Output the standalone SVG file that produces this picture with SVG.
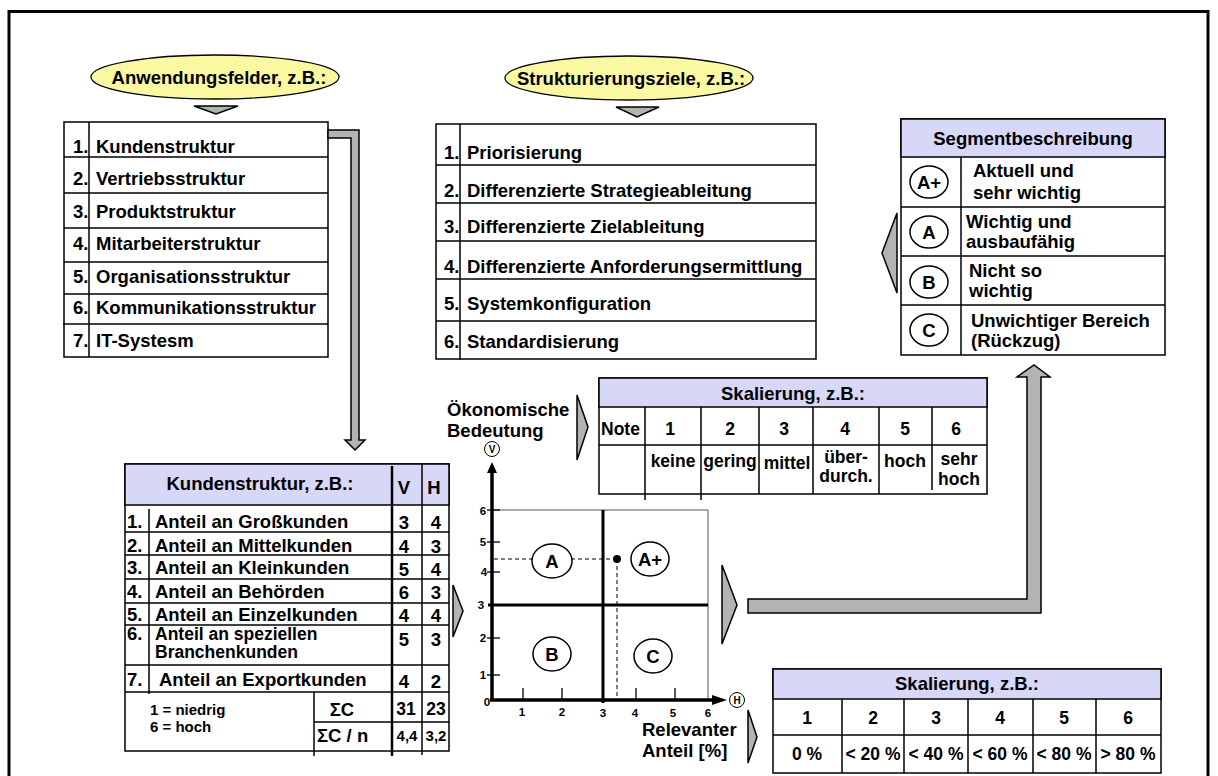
<svg xmlns="http://www.w3.org/2000/svg" width="1218" height="776" viewBox="0 0 1218 776">
<style>
text{font-family:"Liberation Sans",Arial,sans-serif;font-weight:bold;fill:#000}
.L{font-size:18.5px}
.M{font-size:17.5px}
.S{font-size:15px}
.XS{font-size:11.5px}
.T{font-size:10px}
.c{text-anchor:middle}
.box{fill:#fff;stroke:#000;stroke-width:1.5}
.hdr{fill:#D7D7F7;stroke:#000;stroke-width:1.5}
.ln line, line.ln{stroke:#000;stroke-width:1.5}
.gray{fill:#B3B3B3;stroke:#000;stroke-width:1.5}
.ell{fill:#FAF8A0;stroke:#000;stroke-width:1.3}
.circ{fill:#fff;stroke:#000;stroke-width:1.5}
</style>
<rect width="1218" height="776" fill="#fff"/>
<rect x="9" y="11.5" width="1199" height="800" fill="none" stroke="#000" stroke-width="3"/>

<g id="n-anwendungsfelder">
<ellipse cx="215" cy="77" rx="124" ry="22" class="ell"/>
<text x="219" y="84" class="L c">Anwendungsfelder, z.B.:</text>
</g>

<g id="n-liste-anwendungsfelder">
<rect x="64" y="122" width="264" height="235" class="box"/>
<g class="ln">
<line x1="89" y1="122" x2="89" y2="357"/>
<line x1="64" y1="157" x2="328" y2="157"/>
<line x1="64" y1="193" x2="328" y2="193"/>
<line x1="64" y1="228" x2="328" y2="228"/>
<line x1="64" y1="262" x2="328" y2="262"/>
<line x1="64" y1="294" x2="328" y2="294"/>
<line x1="63" y1="324" x2="328" y2="324"/>
</g>
<g class="L">
<text x="73" y="153">1.</text><text x="96" y="153">Kundenstruktur</text>
<text x="73" y="185">2.</text><text x="96" y="185">Vertriebsstruktur</text>
<text x="73" y="218">3.</text><text x="96" y="218">Produktstruktur</text>
<text x="73" y="250">4.</text><text x="96" y="250">Mitarbeiterstruktur</text>
<text x="73" y="283">5.</text><text x="96" y="283">Organisationsstruktur</text>
<text x="73" y="314">6.</text><text x="96" y="314">Kommunikationsstruktur</text>
<text x="73" y="347">7.</text><text x="96" y="347">IT-Systesm</text>
</g>
</g>

<g id="n-strukturierungsziele">
<ellipse cx="629" cy="78" rx="124" ry="22" class="ell"/>
<text x="631" y="85" class="L c">Strukturierungsziele, z.B.:</text>
</g>

<g id="n-liste-ziele">
<rect x="436" y="124" width="380" height="235" class="box"/>
<g class="ln">
<line x1="460" y1="124" x2="460" y2="360"/>
<line x1="436" y1="165" x2="816" y2="165"/>
<line x1="436" y1="203" x2="816" y2="203"/>
<line x1="436" y1="241" x2="816" y2="241"/>
<line x1="436" y1="279" x2="816" y2="279"/>
<line x1="436" y1="321" x2="816" y2="321"/>
</g>
<g class="L">
<text x="444" y="159">1.</text><text x="467" y="159">Priorisierung</text>
<text x="444" y="197">2.</text><text x="467" y="197">Differenzierte Strategieableitung</text>
<text x="444" y="233">3.</text><text x="467" y="233">Differenzierte Zielableitung</text>
<text x="444" y="273">4.</text><text x="467" y="273">Differenzierte Anforderungsermittlung</text>
<text x="444" y="310">5.</text><text x="467" y="310">Systemkonfiguration</text>
<text x="444" y="348">6.</text><text x="467" y="348">Standardisierung</text>
</g>
</g>

<g id="n-segmentbeschreibung">
<rect x="901" y="119" width="264" height="236" class="box"/>
<rect x="901" y="119" width="264" height="38" class="hdr"/>
<text x="1033" y="145" class="L c">Segmentbeschreibung</text>
<g class="ln">
<line x1="961" y1="157" x2="961" y2="355"/>
<line x1="901" y1="207" x2="1165" y2="207"/>
<line x1="901" y1="256" x2="1165" y2="256"/>
<line x1="901" y1="305" x2="1165" y2="305"/>
</g>
<ellipse cx="929" cy="182" rx="19" ry="16" class="circ"/>
<ellipse cx="929" cy="232" rx="19" ry="16" class="circ"/>
<ellipse cx="929" cy="282" rx="19" ry="16" class="circ"/>
<ellipse cx="929" cy="330" rx="19" ry="16" class="circ"/>
<g class="L">
<text x="929" y="189" class="c">A+</text>
<text x="929" y="239" class="c">A</text>
<text x="929" y="289" class="c">B</text>
<text x="929" y="337" class="c">C</text>
<text x="973" y="177">Aktuell und</text>
<text x="973" y="199">sehr wichtig</text>
<text x="966" y="228">Wichtig und</text>
<text x="966" y="248">ausbaufähig</text>
<text x="969" y="277">Nicht so</text>
<text x="969" y="297">wichtig</text>
<text x="971" y="327">Unwichtiger Bereich</text>
<text x="971" y="347">(Rückzug)</text>
</g>
</g>

<g id="n-skalierung-v">
<rect x="599" y="378" width="388" height="116" class="box"/>
<rect x="599" y="378" width="388" height="29" class="hdr"/>
<text x="793" y="400" class="L c">Skalierung, z.B.:</text>
<g class="ln">
<line x1="599" y1="445" x2="987" y2="445"/>
<line x1="645" y1="407" x2="645" y2="500"/>
<line x1="701" y1="407" x2="701" y2="500"/>
<line x1="759" y1="407" x2="759" y2="494"/>
<line x1="813" y1="407" x2="813" y2="494"/>
<line x1="879" y1="407" x2="879" y2="494"/>
<line x1="932" y1="407" x2="932" y2="490"/>
</g>
<g class="M">
<text x="601" y="435">Note</text>
<text x="670" y="435" class="c">1</text>
<text x="730" y="435" class="c">2</text>
<text x="784" y="435" class="c">3</text>
<text x="845" y="435" class="c">4</text>
<text x="905" y="435" class="c">5</text>
<text x="956" y="435" class="c">6</text>
<text x="673" y="467" class="c">keine</text>
<text x="730" y="467" class="c">gering</text>
<text x="787" y="469" class="c">mittel</text>
<text x="846" y="463" class="c">über-</text>
<text x="846" y="482" class="c">durch.</text>
<text x="905" y="467" class="c">hoch</text>
<text x="959" y="465" class="c">sehr</text>
<text x="959" y="485" class="c">hoch</text>
</g>
</g>

<g id="n-kundenstruktur">
<rect x="125" y="464" width="324" height="287" class="box"/>
<rect x="125" y="464" width="324" height="41" class="hdr"/>
<g class="ln">
<line x1="125" y1="532" x2="449" y2="532"/>
<line x1="125" y1="555" x2="449" y2="555"/>
<line x1="125" y1="579" x2="449" y2="579"/>
<line x1="125" y1="603" x2="449" y2="603"/>
<line x1="125" y1="625" x2="449" y2="625"/>
<line x1="125" y1="665" x2="449" y2="665"/>
<line x1="125" y1="692" x2="449" y2="692"/>
<line x1="149" y1="509" x2="149" y2="694"/>
<line x1="422" y1="464" x2="422" y2="755"/>
<line x1="314" y1="692" x2="314" y2="756"/>
<line x1="314" y1="722" x2="449" y2="722"/>
</g>
<line x1="392" y1="466" x2="392" y2="756" stroke="#000" stroke-width="2.5"/>
<g class="L">
<text x="260" y="490" class="c">Kundenstruktur, z.B.:</text>
<text x="404" y="494" class="c">V</text>
<text x="434" y="494" class="c">H</text>
<text x="127" y="528">1.</text><text x="155" y="528">Anteil an Großkunden</text>
<text x="127" y="552">2.</text><text x="155" y="552">Anteil an Mittelkunden</text>
<text x="127" y="574">3.</text><text x="155" y="574">Anteil an Kleinkunden</text>
<text x="127" y="598">4.</text><text x="155" y="598">Anteil an Behörden</text>
<text x="127" y="621">5.</text><text x="155" y="621">Anteil an Einzelkunden</text>
<text x="127" y="640">6.</text>
<text x="127" y="686">7.</text><text x="159" y="686">Anteil an Exportkunden</text>
<text x="404" y="529" class="c">3</text><text x="436" y="529" class="c">4</text>
<text x="404" y="553" class="c">4</text><text x="436" y="553" class="c">3</text>
<text x="404" y="576" class="c">5</text><text x="436" y="576" class="c">4</text>
<text x="404" y="599" class="c">6</text><text x="436" y="599" class="c">3</text>
<text x="404" y="622" class="c">4</text><text x="436" y="622" class="c">4</text>
<text x="404" y="646" class="c">5</text><text x="436" y="646" class="c">3</text>
<text x="404" y="688" class="c">4</text><text x="436" y="688" class="c">2</text>
<text x="342" y="716" class="c">ΣC</text>
<text x="317" y="742">ΣC / n</text>
</g>
<g style="font-size:17.5px">
<text x="155" y="640">Anteil an speziellen</text>
<text x="155" y="658">Branchenkunden</text>
</g>
<g class="M">
<text x="406" y="715" class="c">31</text><text x="436" y="715" class="c">23</text>
</g>
<g class="S">
<text x="150" y="715">1 = niedrig</text>
<text x="150" y="732">6 = hoch</text>
<text x="407" y="741" class="c">4,4</text>
<text x="436" y="741" class="c">3,2</text>
</g>
</g>

<g id="n-portfolio">
<text x="447" y="416" class="L">Ökonomische</text>
<text x="447" y="437" class="L">Bedeutung</text>
<g stroke="#555" stroke-width="1" fill="none">
<line x1="493" y1="510" x2="708" y2="510"/>
<line x1="708" y1="510" x2="708" y2="700"/>
</g>
<g stroke="#000" stroke-width="1.3">
<line x1="487" y1="510" x2="500" y2="510"/>
<line x1="487" y1="542" x2="500" y2="542"/>
<line x1="487" y1="572" x2="500" y2="572"/>
<line x1="487" y1="638" x2="500" y2="638"/>
<line x1="487" y1="675" x2="500" y2="675"/>
<line x1="523" y1="688" x2="523" y2="700"/>
<line x1="562" y1="688" x2="562" y2="700"/>
<line x1="636" y1="688" x2="636" y2="700"/>
<line x1="675" y1="688" x2="675" y2="700"/>
</g>
<g stroke="#000" stroke-width="3">
<line x1="603" y1="510" x2="603" y2="703"/>
<line x1="488" y1="605" x2="708" y2="605"/>
</g>
<g stroke="#000" stroke-width="3.5">
<line x1="492" y1="470" x2="492" y2="701"/>
<line x1="490" y1="700" x2="714" y2="700"/>
</g>
<polygon points="492,462 487,473 497,473" fill="#000"/>
<polygon points="727,700 712,695 712,705" fill="#000"/>
<circle cx="492" cy="449" r="7.5" fill="#fff" stroke="#000" stroke-width="1"/>
<text x="492" y="453" class="T c">V</text>
<circle cx="737" cy="700" r="7.5" fill="#fff" stroke="#000" stroke-width="1"/>
<text x="737" y="704" class="T c">H</text>
<g stroke="#000" stroke-width="1" stroke-dasharray="4,3" fill="none">
<line x1="494" y1="559" x2="617" y2="559"/>
<line x1="617" y1="559" x2="617" y2="699"/>
</g>
<circle cx="617" cy="559" r="4" fill="#000"/>
<ellipse cx="552" cy="561" rx="20" ry="17" class="circ"/>
<ellipse cx="650" cy="559" rx="19" ry="17" class="circ"/>
<ellipse cx="552" cy="654" rx="19" ry="17" class="circ"/>
<ellipse cx="653" cy="656" rx="19" ry="17" class="circ"/>
<g class="L">
<text x="552" y="568" class="c">A</text>
<text x="650" y="566" class="c">A+</text>
<text x="552" y="661" class="c">B</text>
<text x="653" y="663" class="c">C</text>
</g>
<g class="XS">
<text x="483" y="515" class="c">6</text>
<text x="483" y="546" class="c">5</text>
<text x="484" y="576" class="c">4</text>
<text x="481" y="609" class="c">3</text>
<text x="483" y="642" class="c">2</text>
<text x="483" y="679" class="c">1</text>
<text x="487" y="706" class="c">0</text>
<text x="522" y="716" class="c">1</text>
<text x="562" y="716" class="c">2</text>
<text x="603" y="717" class="c">3</text>
<text x="635" y="717" class="c">4</text>
<text x="673" y="717" class="c">5</text>
<text x="708" y="717" class="c">6</text>
</g>
<text x="642" y="736" class="L">Relevanter</text>
<text x="642" y="757" class="L">Anteil [%]</text>
</g>

<g id="n-skalierung-h">
<rect x="773" y="669" width="388" height="104" class="box"/>
<rect x="773" y="669" width="388" height="30" class="hdr"/>
<text x="967" y="690" class="L c">Skalierung, z.B.:</text>
<g class="ln">
<line x1="773" y1="735" x2="1161" y2="735"/>
<line x1="842" y1="699" x2="842" y2="773"/>
<line x1="904" y1="699" x2="904" y2="773"/>
<line x1="968" y1="699" x2="968" y2="773"/>
<line x1="1033" y1="699" x2="1033" y2="773"/>
<line x1="1096" y1="699" x2="1096" y2="773"/>
</g>
<g class="M">
<text x="807" y="724" class="c">1</text>
<text x="873" y="724" class="c">2</text>
<text x="936" y="724" class="c">3</text>
<text x="1000" y="724" class="c">4</text>
<text x="1064" y="724" class="c">5</text>
<text x="1128" y="724" class="c">6</text>
<text x="807" y="760" class="c">0 %</text>
<text x="873" y="760" class="c">&lt; 20 %</text>
<text x="936" y="760" class="c">&lt; 40 %</text>
<text x="1000" y="760" class="c">&lt; 60 %</text>
<text x="1064" y="760" class="c">&lt; 80 %</text>
<text x="1128" y="760" class="c">&gt; 80 %</text>
</g>
</g>

<g id="connectors">
<polygon points="194,106 238,106 216,114" class="gray" stroke-width="1"/>
<polygon points="616,107 659,107 637,117" class="gray" stroke-width="1"/>
<polygon points="328,130 359,130 359,440 365,440 355,450 345,440 351,440 351,138 328,138" class="gray"/>
<polygon points="453,585 463,611 453,637" class="gray"/>
<polygon points="577,395 588,427 577,460" class="gray"/>
<polygon points="722,565 737,605 722,644" class="gray"/>
<polygon points="748,710 757,737 748,763" class="gray"/>
<polygon points="748,599 1027,599 1027,377 1017,377 1034,365 1050,377 1041,377 1041,613 748,613" class="gray"/>
<polygon points="897,213 882,253 897,293" class="gray"/>
</g>
</svg>
